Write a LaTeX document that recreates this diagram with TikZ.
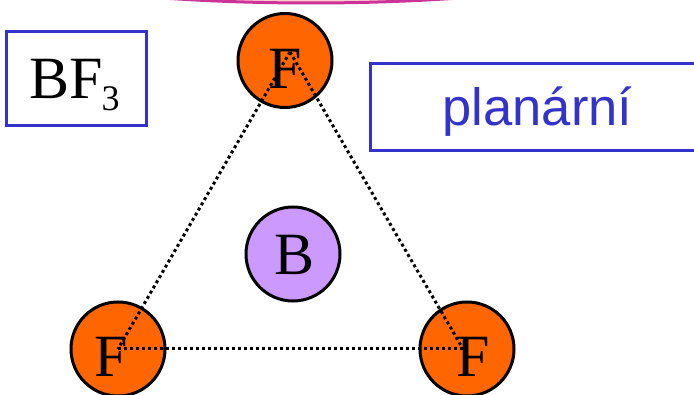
\documentclass[tikz,border=0pt]{standalone}
\usepackage{fontspec}
\setmainfont{Liberation Serif}
\newfontfamily\arialfont{Liberation Sans}
\definecolor{atomF}{RGB}{255,102,0}
\definecolor{atomB}{RGB}{204,153,255}
\definecolor{boxblue}{RGB}{51,51,204}
\definecolor{arcpink}{RGB}{204,51,153}
\definecolor{arcfill}{RGB}{255,204,204}
\tikzset{
  atom/.style={circle,draw=black,line width=3pt,minimum size=94pt,inner sep=0pt,outer sep=0pt},
  atomlabel/.style={inner sep=0pt,font=\fontsize{60}{60}\selectfont,text=black},
  bond/.style={draw=black,line width=3pt,dash pattern=on 3pt off 3pt},
  tag/.style={draw=boxblue,line width=3pt,rectangle,inner sep=0pt,outer sep=0pt,anchor=north west}
}
\begin{document}
\begin{tikzpicture}[x=1pt,y=-1pt]
\useasboundingbox (0,0) rectangle (694,395);
\begin{scope}
\clip (0,0) rectangle (694,395);
\draw[draw=arcpink,fill=arcfill,line width=3pt] (311,-100) ellipse [x radius=480,y radius=103];
\node[tag,minimum width=140pt,minimum height=94pt] (formulabox) at (6.5,31.5) {};
\node[tag,minimum width=340pt,minimum height=87pt] (shapebox) at (370.5,63.5) {};
\node[atom,fill=atomF] (top) at (285,60.5) {};
\node[atom,fill=atomB] (center) at (293,254) {};
\node[atom,fill=atomF] (left) at (118,349) {};
\node[atom,fill=atomF] (right) at (467,349) {};
\node[atomlabel] (ftop) at (285,69) {F};
\node[atomlabel] (bcenter) at (295,255) {B};
\node[atomlabel] (fleft) at (111,357) {F};
\node[atomlabel] (fright) at (473,357) {F};
\node[inner sep=0pt,anchor=base west,font=\fontsize{60}{60}\selectfont] (formula) at (29,99) {BF\raisebox{-12pt}{\kern-1pt\fontsize{36}{36}\selectfont 3}};
\node[inner sep=0pt,anchor=base,font=\arialfont\fontsize{52.5}{52.5}\selectfont,text=boxblue] (shape) at (537.5,126) {planární};
\coordinate (vt) at (290,52);
\coordinate (vl) at (118,349);
\coordinate (vr) at (463,349);
\path[bond] (vt) -- (vl);
\path[bond] (vt) -- (vr);
\path[bond] (vl) -- (vr);
\end{scope}
\end{tikzpicture}
\end{document}
